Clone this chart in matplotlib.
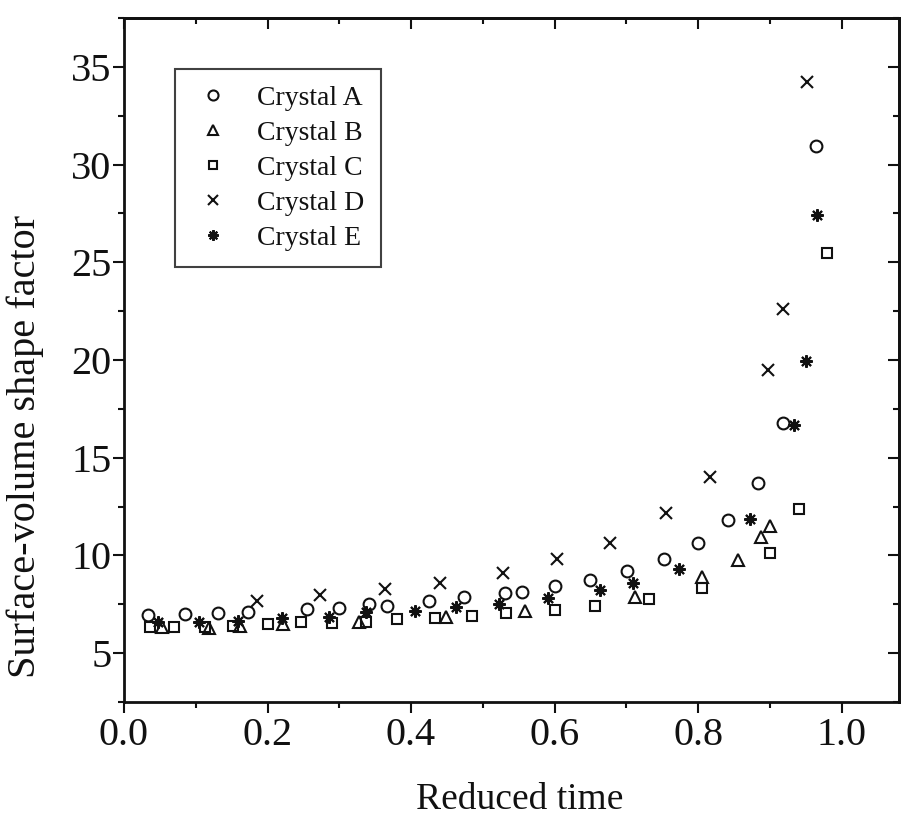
"""Surface-volume shape factor vs. reduced time for five crystals.

Black hollow markers, one shape per crystal, on an Origin-style frame:
outward ticks on bottom/left, mirrored inward ticks on top/right.
"""

import matplotlib

matplotlib.use("Agg")
import matplotlib.pyplot as plt
from matplotlib.ticker import MultipleLocator

plt.rcParams["font.family"] = ["Liberation Serif", "DejaVu Serif"]

# Values.
crystal_a_t = [0.034, 0.085, 0.131, 0.173, 0.255, 0.300, 0.342, 0.366, 0.425,
               0.474, 0.531, 0.554, 0.601, 0.650, 0.701, 0.753, 0.800, 0.842,
               0.884, 0.919, 0.965]
crystal_a_s = [6.95, 7.0, 7.03, 7.1, 7.27, 7.33, 7.54, 7.42, 7.67, 7.85, 8.06,
               8.14, 8.43, 8.74, 9.2, 9.8, 10.65, 11.8, 13.7, 16.76, 30.96]

crystal_b_t = [0.053, 0.119, 0.162, 0.221, 0.327, 0.449, 0.559, 0.712, 0.806,
               0.855, 0.887, 0.900]
crystal_b_s = [6.35, 6.3, 6.4, 6.5, 6.6, 6.86, 7.17, 7.88, 8.88, 9.76, 10.95,
               11.5]

crystal_c_t = [0.036, 0.069, 0.113, 0.152, 0.201, 0.247, 0.290, 0.337, 0.381,
               0.434, 0.485, 0.533, 0.601, 0.656, 0.732, 0.806, 0.900, 0.941,
               0.979]
crystal_c_s = [6.35, 6.35, 6.35, 6.4, 6.5, 6.6, 6.55, 6.6, 6.75, 6.8, 6.9,
               7.03, 7.2, 7.4, 7.76, 8.31, 10.1, 12.36, 25.5]

crystal_d_t = [0.186, 0.273, 0.364, 0.441, 0.528, 0.603, 0.677, 0.755, 0.817,
               0.897, 0.918, 0.952]
crystal_d_s = [7.65, 7.97, 8.3, 8.6, 9.1, 9.8, 10.65, 12.15, 14.0, 19.5, 22.6,
               34.2]

crystal_e_t = [0.048, 0.104, 0.159, 0.220, 0.286, 0.337, 0.406, 0.463, 0.523,
               0.591, 0.663, 0.709, 0.774, 0.873, 0.933, 0.950, 0.966]
crystal_e_s = [6.6, 6.6, 6.65, 6.8, 6.86, 7.1, 7.15, 7.34, 7.54, 7.8, 8.23,
               8.57, 9.28, 11.85, 16.67, 19.95, 27.43]

x_ticks = [0.0, 0.2, 0.4, 0.6, 0.8, 1.0]
y_ticks = [5, 10, 15, 20, 25, 30, 35]

_INK = "#111111"

# (label, t, s, marker, markersize)
_SERIES = [
    ("Crystal A", crystal_a_t, crystal_a_s, "o", 8.5),
    ("Crystal B", crystal_b_t, crystal_b_s, "^", 9),
    ("Crystal C", crystal_c_t, crystal_c_s, "s", 7.5),
    ("Crystal D", crystal_d_t, crystal_d_s, "x", 9),
    ("Crystal E", crystal_e_t, crystal_e_s, (8, 2, 0), 9),
]


def main():
    fig = plt.figure(figsize=(9.01, 8.23), dpi=100)
    ax = fig.add_axes([124 / 901, 1 - 702 / 823, 775 / 901, 684 / 823])

    for label, t, s, marker, ms in _SERIES:
        ax.plot(t, s, linestyle="none", marker=marker, markersize=ms,
                markerfacecolor="none", markeredgecolor=_INK,
                markeredgewidth=1.5, label=label)

    ax.set_xlim(0.0, 1.08)
    ax.set_ylim(2.5, 37.5)
    ax.set_xticks(x_ticks)
    ax.set_xticklabels([f"{v:.1f}" for v in x_ticks])
    ax.set_yticks(y_ticks)
    ax.xaxis.set_minor_locator(MultipleLocator(0.1))
    ax.yaxis.set_minor_locator(MultipleLocator(2.5))

    for spine in ax.spines.values():
        spine.set_linewidth(2)
        spine.set_color(_INK)

    ax.tick_params(which="major", direction="out", length=8, width=1.5,
                   labelsize=29, colors=_INK, pad=3)
    ax.tick_params(which="minor", direction="out", length=4.5, width=1.5,
                   colors=_INK)
    ax.tick_params(axis="y", pad=1)

    # mirrored inward ticks on top and right
    top = ax.secondary_xaxis("top")
    top.set_xticks(x_ticks)
    top.xaxis.set_minor_locator(MultipleLocator(0.1))
    top.tick_params(which="both", direction="in", labeltop=False, width=1.5,
                    colors=_INK)
    top.tick_params(which="major", length=8)
    top.tick_params(which="minor", length=4.5)
    right = ax.secondary_yaxis("right")
    right.set_yticks(y_ticks)
    right.yaxis.set_minor_locator(MultipleLocator(2.5))
    right.tick_params(which="both", direction="in", labelright=False,
                      width=1.5, colors=_INK)
    right.tick_params(which="major", length=8)
    right.tick_params(which="minor", length=4.5)
    for sec in (top, right):
        for spine in sec.spines.values():
            spine.set_linewidth(2)
            spine.set_color(_INK)

    ax.set_xlabel("Reduced time", fontsize=27, color=_INK, va="top")
    ax.xaxis.set_label_coords(0.511, -0.117)
    ax.set_ylabel("Surface-volume shape factor", fontsize=29, color=_INK,
                  va="center")
    ax.yaxis.set_label_coords(-0.128, 0.373)

    leg = ax.legend(loc="upper left", bbox_to_anchor=(0.0658, 0.9254),
                    borderaxespad=0, fontsize=20, frameon=True, fancybox=False,
                    borderpad=0.6, handlelength=1.53, handletextpad=0.82,
                    labelspacing=0.34, markerscale=0.85)
    leg.get_frame().set_edgecolor(_INK)
    leg.get_frame().set_linewidth(1.5)
    for text in leg.get_texts():
        text.set_color(_INK)

    fig.savefig("out.png", dpi=100)
    plt.close(fig)


if __name__ == "__main__":
    main()
